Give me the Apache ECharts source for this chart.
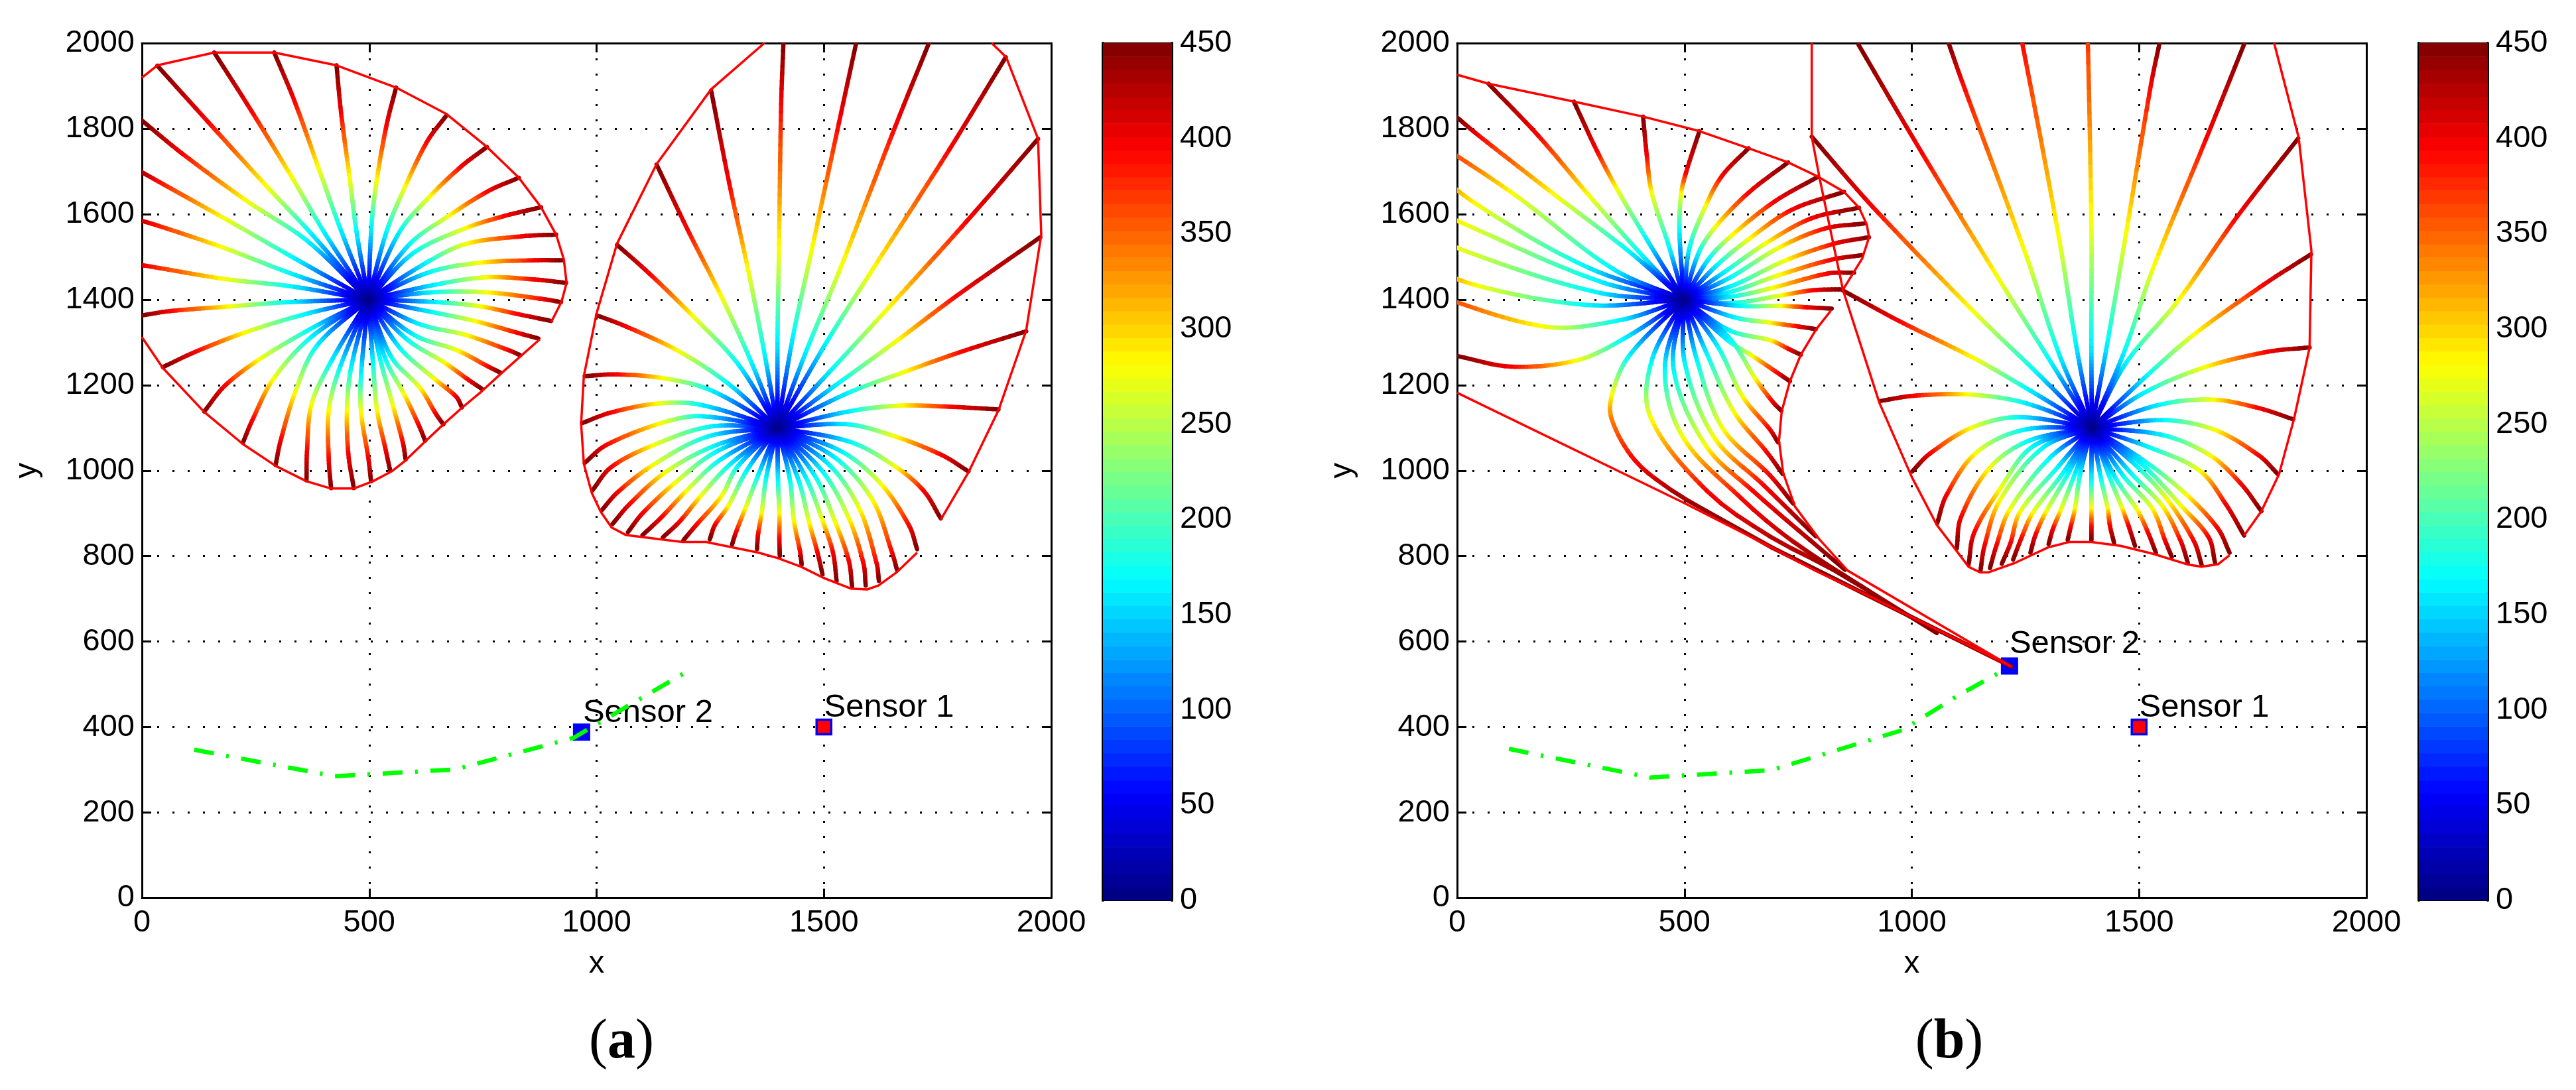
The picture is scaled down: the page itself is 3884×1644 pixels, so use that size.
<!DOCTYPE html>
<html>
<head>
<meta charset="utf-8">
<script src="https://cdn.jsdelivr.net/npm/echarts@6/dist/echarts.min.js"></script>
<style>html,body{margin:0;padding:0;background:#fff}#c{width:3884px;height:1644px}</style>
</head>
<body>
<div id="c"></div>
<script>
// ---- data ----
const xTicksInterval = 500, yTicksInterval = 200, colorTicksInterval = 50;
const colorMax = 450;
const centerA1 = [498, 1400], centerA2 = [1398, 1100], centerB1 = [499, 1400], centerB2 = [1396, 1100];
// times of the 4 read vertices on each ordinary ray (cyan, yellow, red, end)
const rayTimes = [165, 275, 395, 450];
// each row: cyan x,y  yellow x,y  red x,y  end x,y
const raysA1 = [
[371,1556,277,1662,146,1815,34,1947],[400,1559,331,1684,241,1841,159,1978],[436,1567,389,1706,335,1866,291,1978],
[472,1559,457,1684,438,1837,428,1948],[505,1574,516,1676,538,1808,559,1896],[538,1559,578,1662,628,1771,670,1831],
[567,1559,632,1640,704,1713,759,1757],[589,1530,675,1596,762,1654,829,1685],[596,1508,712,1567,799,1596,878,1616],
[625,1486,712,1530,835,1548,911,1552],[632,1464,741,1486,864,1492,925,1492],[646,1435,755,1452,864,1447,933,1439],
[637,1417,758,1417,884,1401,922,1394],[650,1394,745,1384,827,1366,900,1350],[637,1371,732,1350,827,1322,872,1309],
[612,1342,713,1317,808,1281,832,1270],[599,1317,694,1281,764,1242,789,1229],[584,1306,666,1252,720,1211,748,1191],
[568,1286,644,1214,691,1173,704,1148],[549,1265,612,1193,647,1132,663,1108],[536,1260,577,1178,609,1106,623,1070],
[523,1265,552,1152,574,1065,580,1026],[508,1255,517,1142,536,1049,546,1000],[482,1224,482,1137,498,1029,504,975],
[460,1240,451,1142,454,1039,466,959],[435,1240,411,1142,411,1024,416,959],[416,1255,373,1155,363,1044,362,977],
[384,1291,337,1183,305,1070,294,1013],[372,1312,289,1214,242,1116,222,1065],[372,1332,258,1260,182,1198,137,1138],
[359,1366,229,1324,118,1278,46,1242],[321,1394,194,1384,61,1373,0,1363],[328,1431,183,1448,9,1479,-30,1485],
[328,1461,175,1523,20,1578,-30,1592],[335,1497,183,1589,30,1680,-20,1710],[364,1537,233,1629,88,1742,0,1819]];
const raysA2 = [
[1398,1306,1401,1510,1406,1858,1411,2000],[1432,1314,1472,1510,1533,1813,1571,2000],[1461,1279,1537,1475,1657,1805,1731,2000],
[1504,1297,1599,1457,1776,1751,1900,1967],[1515,1234,1631,1368,1813,1582,1971,1776],[1530,1203,1657,1301,1791,1408,1976,1546],
[1552,1181,1675,1230,1805,1279,1945,1326],[1558,1139,1668,1152,1783,1149,1884,1143],[1552,1108,1656,1080,1760,1036,1818,998],
[1558,1067,1659,1008,1720,952,1757,888],[1540,1044,1627,967,1688,870,1705,816],[1526,1029,1607,931,1650,808,1661,767],
[1512,1013,1578,911,1616,783,1621,742],[1497,998,1555,888,1587,783,1592,731],[1480,988,1526,877,1555,788,1562,729],
[1462,980,1497,883,1520,808,1528,742],[1445,975,1468,877,1486,808,1497,757],[1425,980,1434,883,1448,808,1451,780],
[1399,977,1402,900,1402,838,1403,800],[1373,983,1363,900,1355,849,1353,816],[1355,988,1327,911,1306,854,1298,827],
[1329,998,1289,916,1260,872,1249,839],[1309,1008,1275,941,1217,870,1191,837],[1292,1013,1228,939,1182,880,1146,844],
[1269,1023,1197,952,1142,890,1101,849],[1263,1044,1171,970,1101,900,1069,856],[1257,1057,1150,995,1072,921,1035,875],
[1246,1080,1124,1013,1046,949,1012,908],[1251,1103,1124,1059,1032,1008,991,954],[1228,1127,1142,1111,1020,1059,974,1018],
[1228,1154,1136,1157,1032,1136,968,1111],[1251,1188,1147,1216,1043,1225,974,1221],[1290,1203,1181,1279,1065,1337,1001,1363],
[1312,1248,1214,1359,1116,1461,1045,1528],[1341,1252,1276,1404,1200,1564,1132,1716],[1370,1270,1334,1466,1292,1671,1252,1889]];
const raysB1 = [
[409,1501,293,1640,178,1784,69,1905],[417,1541,351,1660,307,1749,257,1863],[467,1521,428,1650,417,1739,409,1828],
[489,1561,493,1650,504,1699,533,1794],[511,1521,547,1620,583,1690,641,1754],[532,1511,569,1571,641,1650,728,1721],
[554,1496,605,1551,699,1630,793,1687],[572,1481,641,1541,736,1610,851,1652],[590,1466,678,1531,779,1590,884,1615],
[601,1452,707,1521,808,1566,896,1578],[604,1432,721,1491,830,1531,906,1546],[598,1417,707,1457,822,1493,891,1504],
[605,1407,692,1427,815,1461,873,1463],[605,1392,714,1410,783,1422,848,1424],[625,1385,713,1385,770,1382,824,1379],
[612,1358,688,1346,751,1337,789,1331],[599,1328,691,1304,732,1283,756,1271],[596,1304,650,1268,707,1227,732,1209],
[599,1310,656,1215,694,1161,713,1140],[574,1289,628,1173,688,1096,706,1066],[549,1274,609,1137,682,1042,716,992],
[527,1260,584,1099,688,989,739,923],[501,1251,565,1078,675,965,789,846],[476,1239,546,1060,650,953,853,768],
[366,1308,264,1258,120,1243,0,1268],[359,1352,192,1337,-80,1420,-130,1430],[293,1387,47,1432,-120,1500,-180,1520],
[308,1417,0,1521,-150,1600,-230,1640],[315,1442,18,1576,-150,1660,-220,1700],[286,1476,47,1620,-100,1740,-170,1780],
[344,1471,127,1645,-50,1770,-100,1800],[380,1511,221,1640,47,1784,0,1826]];
// rays into the funnel: vertices x,y,time
const raysB1Funnel = [
[[457,1239,165],[495,1081,275],[625,935,395],[739,834,420],[928,703,450]],
[[428,1257,165],[425,1126,275],[549,953,395],[688,846,420],[827,768,435],[1055,620,450]],
[[378,1268,165],[341,1179,275],[340,1120,340],[391,1024,395],[473,953,430],[549,905,440],[694,819,445],[890,715,448],[1220,541,450]]];
const raysB2 = [
[1395,1297,1395,1573,1385,2100,1380,2200],[1361,1297,1325,1537,1241,2010,1215,2130],[1325,1270,1252,1502,1110,1912,1081,2000],
[1307,1252,1194,1444,1023,1742,883,1996],[1274,1230,1140,1368,914,1617,780,1781],[1256,1190,1140,1261,972,1350,849,1421],
[1246,1159,1125,1178,1004,1175,932,1163],[1235,1125,1131,1100,1039,1039,1001,998],[1245,1095,1142,1042,1076,942,1056,877],
[1258,1070,1171,1006,1108,890,1099,818],[1267,1057,1194,957,1137,854,1125,780],[1289,1054,1194,931,1160,824,1151,765],
[1304,1030,1215,908,1186,824,1172,772],[1321,1008,1238,903,1217,830,1198,782],[1335,998,1266,901,1240,839,1223,792],
[1344,993,1295,903,1272,849,1261,808],[1358,990,1327,906,1310,862,1301,828],[1370,990,1359,911,1349,866,1343,838],
[1395,977,1395,911,1395,865,1395,836],[1416,983,1431,911,1436,870,1445,831],[1434,988,1463,911,1477,870,1491,824],
[1448,983,1497,906,1520,854,1537,808],[1465,988,1529,911,1558,834,1572,798],[1483,993,1552,916,1592,834,1607,785],
[1497,1008,1563,931,1621,834,1638,778],[1505,1016,1594,916,1653,844,1667,785],[1511,1023,1604,944,1673,865,1699,808],
[1521,1055,1633,1000,1691,921,1731,848],[1552,1083,1657,1035,1725,968,1769,905],[1555,1118,1667,1095,1764,1035,1805,992],
[1545,1154,1662,1166,1764,1146,1839,1120],[1511,1182,1642,1241,1783,1278,1875,1288],[1516,1221,1618,1316,1774,1435,1878,1506],
[1472,1253,1584,1395,1715,1593,1850,1777],[1467,1277,1531,1474,1647,1775,1732,2000],[1430,1297,1470,1546,1526,1902,1545,2000]];
// outer fronts (open curves)
const frontA1a = [[0,1919],[34,1948],[159,1978],[291,1978],[428,1948],[559,1896],[670,1834],[759,1757],[829,1685],[878,1616],[911,1552],[928,1494],[934,1439],[923,1395],[900,1347]];
const frontA1b = [[875,1307],[792,1229],[748,1186],[704,1147],[663,1108],[622,1067],[577,1021],[549,998],[508,975],[466,958],[416,958],[362,975],[294,1011],[222,1062],[137,1137],[46,1240],[0,1312]];
const frontA2a = [[1369,2000],[1252,1892],[1132,1717],[1045,1531],[1000,1368],[972,1221],[966,1109],[972,1016],[989,949],[1009,904],[1033,867],[1065,849],[1189,833],[1241,833],[1356,808],[1399,795],[1450,775],[1501,748],[1559,724],[1595,722],[1620,731],[1660,762],[1705,808]];
const frontA2b = [[1757,885],[1819,998],[1884,1141],[1945,1328],[1978,1551],[1971,1776],[1901,1967],[1869,2000]];
const frontB1a = [[0,1926],[69,1905],[257,1863],[409,1828],[533,1794],[641,1754],[728,1721],[793,1688],[851,1652],[884,1615],[901,1576],[906,1546],[891,1496],[848,1422]];
const frontB1b = [[822,1374],[790,1331],[756,1271],[732,1209],[714,1139],[708,1070],[717,995],[743,916],[796,840],[859,766],[1220,541],[890,715],[789,765],[694,819],[496,926],[0,1182]];
const frontB2a = [[780,2000],[780,1781],[798,1680],[849,1421],[929,1158],[1000,985],[1055,873],[1125,775],[1150,762],[1169,762],[1227,784],[1299,820],[1347,833],[1395,833],[1459,824],[1532,805],[1608,780],[1637,775],[1674,781],[1699,802]];
const frontB2b = [[1731,848],[1769,905],[1808,992],[1841,1122],[1875,1288],[1879,1514],[1851,1779],[1797,2000]];
// target paths
const pathA = [[115,347],[424,285],[690,301],[950,375],[986,398],[1199,530]];
const pathB = [[114,349],[424,282],[690,299],[980,393],[1102,474],[1209,537]];
// sensors
const sensor1A = [1500,400], sensor2A = [967,388], sensor1B = [1500,400], sensor2B = [1215,543];

// ---- jet colormap (64 steps) ----
function jet(v){
  const lvl = Math.min(63, Math.max(0, Math.floor(v / colorMax * 64)));
  const g = (lvl + 0.5) / 64 * 4;
  const cl = x => Math.round(255 * Math.max(0, Math.min(1, x)));
  return 'rgb(' + cl(Math.min(g - 1.5, 4.5 - g)) + ',' + cl(Math.min(g - 0.5, 3.5 - g)) + ',' + cl(Math.min(g + 0.5, 2.5 - g)) + ')';
}
// stroke a ray through its read vertices with a gentle curve, one short piece per colour band
function segs(center, rows, long){
  const out = [];
  const add = v0 => {
    const v = [[center[0], center[1], 0]].concat(v0);
    const dir = i => {
      const a = v[Math.max(0, i - 1)], b = v[Math.min(v.length - 1, i + 1)];
      const dx = b[0] - a[0], dy = b[1] - a[1], l = Math.hypot(dx, dy) || 1;
      return [dx / l, dy / l];
    };
    for (let k = 0; k < v.length - 1; k++) {
      const p = v[k], q = v[k + 1], L = Math.hypot(q[0]-p[0], q[1]-p[1]);
      const d0 = dir(k), d1 = dir(k + 1);
      const at = u => {
        const h00 = 2*u*u*u-3*u*u+1, h10 = u*u*u-2*u*u+u, h01 = -2*u*u*u+3*u*u, h11 = u*u*u-u*u;
        return [h00*p[0]+h10*L*d0[0]+h01*q[0]+h11*L*d1[0], h00*p[1]+h10*L*d0[1]+h01*q[1]+h11*L*d1[1]];
      };
      const n = Math.max(1, Math.ceil((q[2] - p[2]) / 7));
      for (let i = 0; i < n; i++) {
        const a = at(i / n), b = at((i + 1) / n);
        out.push([a[0], a[1], b[0], b[1], p[2] + (q[2] - p[2]) * (i + 0.5) / n]);
      }
    }
  };
  rows.forEach(r => add(rayTimes.map((t, i) => [r[2*i], r[2*i+1], t])));
  (long || []).forEach(add);
  return out;
}
const renderRay = (params, api) => {
  const a = api.coord([api.value(0), api.value(1)]), b = api.coord([api.value(2), api.value(3)]);
  return {type:'line', shape:{x1:a[0],y1:a[1],x2:b[0],y2:b[1]}, style:{stroke:jet(api.value(4)), lineWidth:6.5, lineCap:'round', fill:null}};
};
const FONT = 'Liberation Sans';
const plain = v => String(v);
const xAxis = [], yAxis = [], grid = [], series = [];
const tick = {show:true, inside:true, length:14, lineStyle:{color:'#000', width:3}};
const line = w => ({show:true, onZero:false, lineStyle:{color:'#000', width:w}});
const dotted = {show:true, lineStyle:{color:'#000', width:3, type:[3,20]}};
function plot(left){
  const g = grid.length;
  grid.push({left:left, top:65, width:1371, height:1289.5});
  const xi = xAxis.length, yi = yAxis.length;
  xAxis.push({gridIndex:g, type:'value', min:0, max:2000, interval:xTicksInterval, position:'bottom', name:'x', nameLocation:'middle', nameGap:76,
    nameTextStyle:{fontSize:47, color:'#000', fontFamily:FONT}, axisLine:line(3), axisTick:tick, splitLine:dotted,
    axisLabel:{fontSize:47, color:'#000', fontFamily:FONT, margin:14, showMinLabel:true, showMaxLabel:true, formatter:plain}});
  xAxis.push({gridIndex:g, type:'value', min:0, max:2000, interval:xTicksInterval, position:'top', axisLine:line(3), axisTick:tick, splitLine:{show:false}, axisLabel:{show:false}});
  yAxis.push({gridIndex:g, type:'value', min:0, max:2000, interval:yTicksInterval, position:'left', name:'y', nameLocation:'middle', nameGap:149,
    nameTextStyle:{fontSize:47, color:'#000', fontFamily:FONT}, axisLine:line(3), axisTick:tick, splitLine:dotted,
    axisLabel:{fontSize:47, color:'#000', fontFamily:FONT, margin:11, showMinLabel:true, showMaxLabel:true, formatter:plain}});
  yAxis.push({gridIndex:g, type:'value', min:0, max:2000, interval:yTicksInterval, position:'right', axisLine:line(3), axisTick:tick, splitLine:{show:false}, axisLabel:{show:false}});
  return [xi, yi];
}
function colorbar(left){
  const g = grid.length;
  grid.push({left:left, top:65, width:104, height:1293});
  const xi = xAxis.length, yi = yAxis.length;
  xAxis.push({gridIndex:g, type:'value', min:0, max:1, position:'bottom', axisLine:line(2), axisTick:{show:false}, splitLine:{show:false}, axisLabel:{show:false}});
  xAxis.push({gridIndex:g, type:'value', min:0, max:1, position:'top', axisLine:line(2), axisTick:{show:false}, splitLine:{show:false}, axisLabel:{show:false}});
  const ct = {show:true, inside:true, length:11, lineStyle:{color:'#000', width:2}};
  yAxis.push({gridIndex:g, type:'value', min:0, max:colorMax, interval:colorTicksInterval, position:'right', axisLine:line(4), axisTick:ct, splitLine:{show:false},
    axisLabel:{fontSize:47, color:'#000', fontFamily:FONT, margin:12, showMinLabel:true, showMaxLabel:true, formatter:plain}});
  yAxis.push({gridIndex:g, type:'value', min:0, max:colorMax, interval:colorTicksInterval, position:'left', axisLine:line(4), axisTick:ct, splitLine:{show:false}, axisLabel:{show:false}});
  const cells = [];
  for (let i = 0; i < 64; i++) cells.push([i / 64 * colorMax, (i + 1) / 64 * colorMax]);
  series.push({type:'custom', xAxisIndex:xi, yAxisIndex:yi, clip:true, silent:true, z:1, data:cells, animation:false,
    renderItem:(p, api) => {
      const a = api.coord([0, api.value(1)]), b = api.coord([1, api.value(0)]);
      return {type:'rect', shape:{x:a[0], y:a[1], width:b[0]-a[0], height:b[1]-a[1]+0.5},
        style:{fill:jet((api.value(0)+api.value(1))/2), stroke:null}};
    }});
}
function sensor(ax, pos, name, face, size, bw, off){
  series.push({type:'scatter', xAxisIndex:ax[0], yAxisIndex:ax[1], z:3, silent:true, symbol:'rect', symbolSize:size, data:[pos],
    itemStyle:{color:face, borderColor:'#0000ff', borderWidth:bw, opacity:1},
    label:{show:true, formatter:name, position:off, fontSize:49, color:'#000', fontFamily:FONT}});
}
function front(ax, pts){
  series.push({type:'line', xAxisIndex:ax[0], yAxisIndex:ax[1], z:6, silent:true, symbol:'none', data:pts, clip:true, lineStyle:{color:'#ff0000', width:3.5}});
}
function rays(ax, data){
  series.push({type:'custom', xAxisIndex:ax[0], yAxisIndex:ax[1], z:5, clip:true, silent:true, progressive:0, data:data, renderItem:renderRay});
}
function target(ax, pts){
  series.push({type:'line', xAxisIndex:ax[0], yAxisIndex:ax[1], z:4, silent:true, symbol:'none', data:pts, lineStyle:{color:'#00ff00', width:6.5, type:[30,19,4,19]}});
}
const axA = plot(214), axB = plot(2197);
colorbar(1663); colorbar(3647);

sensor(axA, sensor1A, 'Sensor 1', '#ff0000', 22, 3.5, [13,-41]);
sensor(axA, sensor2A, 'Sensor 2', '#0000ff', 24, 2, [15,-40]);
sensor(axB, sensor1B, 'Sensor 1', '#ff0000', 22, 3.5, [13,-41]);
sensor(axB, sensor2B, 'Sensor 2', '#0000ff', 24, 2, [13,-44]);
target(axA, pathA); target(axB, pathB);
rays(axA, segs(centerA1, raysA1)); rays(axA, segs(centerA2, raysA2));
rays(axB, segs(centerB1, raysB1, raysB1Funnel)); rays(axB, segs(centerB2, raysB2));
[frontA1a, frontA1b, frontA2a, frontA2b].forEach(f => front(axA, f));
[frontB1a, frontB1b, frontB2a, frontB2b].forEach(f => front(axB, f));

const caption = (cx, letter) => ({type:'text', x:cx, y:1573, silent:true, style:{
  text:'{r|(}{b|' + letter + '}{r|)}', align:'center', verticalAlign:'middle',
  rich:{r:{fontFamily:'Liberation Serif', fontSize:84, fill:'#000'}, b:{fontFamily:'Liberation Serif', fontWeight:'bold', fontSize:84, fill:'#000'}}}});

const chart = echarts.init(document.getElementById('c'), null, {renderer:'canvas', width:3884, height:1644});
chart.setOption({
  animation:false, backgroundColor:'#fff', grid:grid, xAxis:xAxis, yAxis:yAxis, series:series,
  graphic:[caption(937,'a'), caption(2939,'b')]
});
</script>
</body>
</html>
